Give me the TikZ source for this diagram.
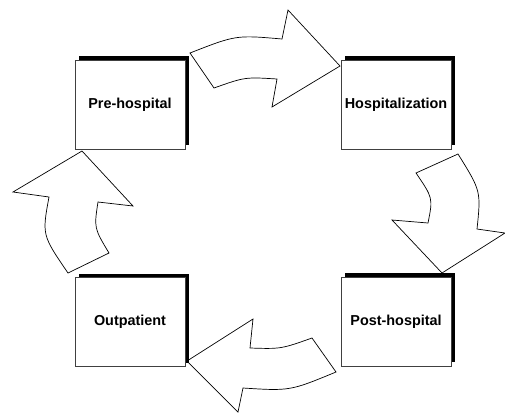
\documentclass[tikz,border=0pt]{standalone}
\usepackage{fontspec}
\setmainfont{Liberation Sans}
\usetikzlibrary{shadows}

\tikzset{
  stage/.style={draw=black!75, line width=0.7pt, fill=white,
    minimum width=110pt, minimum height=89pt, inner sep=0pt,
    font=\fontsize{14.4}{17}\selectfont\bfseries,
    drop shadow={shadow xshift=4pt, shadow yshift=4pt, fill=black, opacity=1}},
  blockarrow/.style={draw=black, line width=0.7pt, fill=white, line join=miter}
}

\begin{document}
\begin{tikzpicture}[x=1pt, y=-1pt]
		\useasboundingbox (0,0) rectangle (505,413);
		% arrows between the stages
		\draw[blockarrow] (190,53) .. controls (236,35) .. (282,39) -- (288,10) -- (340,66)
			-- (272,107) -- (277,79) .. controls (245,77) .. (214,88) -- cycle;
		\draw[blockarrow] (458,154) .. controls (481,191) .. (477,229) -- (505,233) -- (442,273)
			-- (392,220) -- (428,223) .. controls (433,198) .. (416,173) -- cycle;
		\draw[blockarrow] (312,338) .. controls (281,349) .. (250,348) -- (253,319) -- (187,361)
			-- (238,412) -- (243,388) .. controls (290,391) .. (336,372) -- cycle;
		\draw[blockarrow] (68,273) .. controls (42,235) .. (49,197) -- (13,192) -- (82,151)
			-- (133,206) -- (98,202) .. controls (94,228) .. (109,253) -- cycle;
		% stages
		\node[stage] (pre) at (130,104.5) {Pre-hospital};
		\node[stage] (hosp) at (396,104.5) {Hospitalization};
		\node[stage] (post) at (396,321.5) {Post-hospital};
		\node[stage] (out) at (130,322) {Outpatient};
\end{tikzpicture}
\end{document}
